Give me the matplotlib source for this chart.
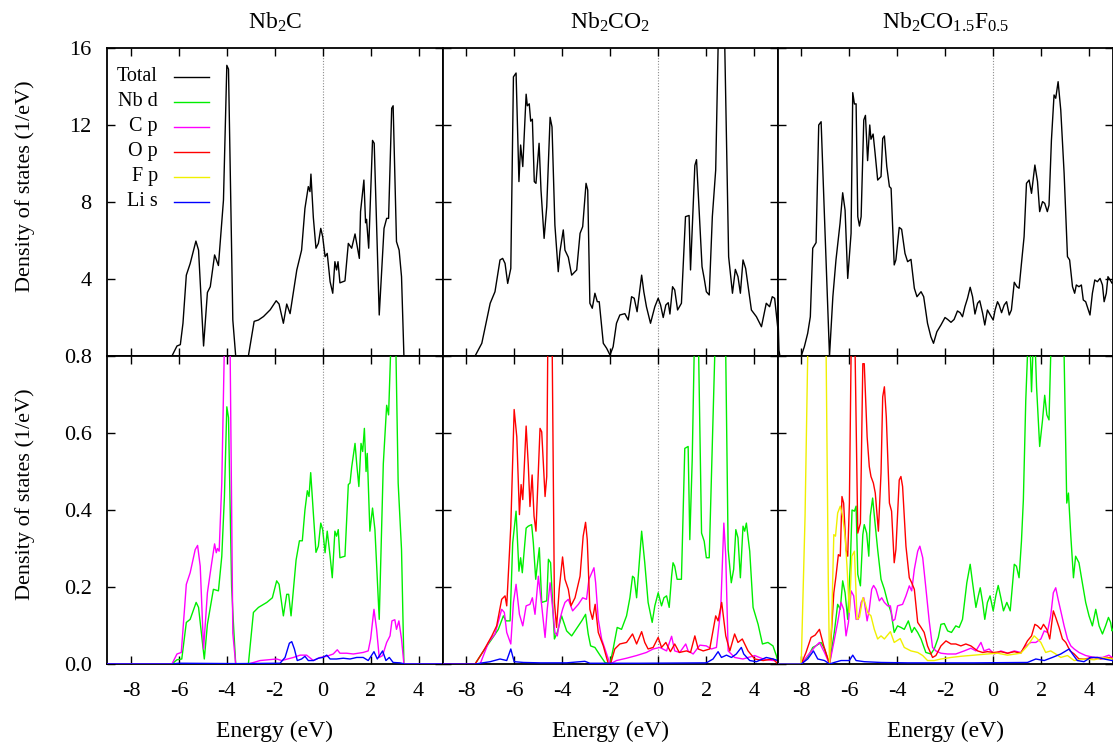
import numpy as np
import matplotlib
matplotlib.use('Agg')
import matplotlib.pyplot as plt

# ------------------ data (energy in eV, DOS in 1/eV) ------------------
titles = [r'Nb$_2$C', r'Nb$_2$CO$_2$', r'Nb$_2$CO$_{1.5}$F$_{0.5}$']
species = ['Total', 'Nb d', 'C p', 'O p', 'F p', 'Li s']
x_ticks = [-8, -6, -4, -2, 0, 2, 4]
top_ticks = [4, 8, 12, 16]
bottom_ticks = [0.0, 0.2, 0.4, 0.6, 0.8]

# Nb2C
nb2c_total = [(-9.0, 0), (-6.29, 0), (-6.08, 0.52), (-5.94, 0.59), (-5.83, 1.7), (-5.69, 4.2), (-5.53, 4.8),
              (-5.29, 5.97), (-5.18, 5.5), (-4.97, 0.52), (-4.81, 3.3), (-4.69, 3.6), (-4.51, 5.25), (-4.35, 4.7),
              (-4.14, 8.1), (-4.0, 15.1), (-3.93, 14.9), (-3.75, 1.87), (-3.63, 0), (-3.10, 0), (-2.86, 1.8),
              (-2.68, 1.87), (-2.47, 2.05), (-2.19, 2.4), (-1.94, 2.87), (-1.82, 2.7), (-1.64, 1.7), (-1.50, 2.7),
              (-1.36, 2.2), (-1.08, 4.47), (-0.88, 5.5), (-0.74, 7.67), (-0.60, 8.8), (-0.53, 8.54), (-0.49, 9.45),
              (-0.39, 7.2), (-0.28, 5.6), (-0.18, 5.85), (-0.08, 6.63), (0.0, 6.2), (0.10, 5.16), (0.19, 5.33),
              (0.31, 3.86), (0.42, 3.26), (0.51, 4.9), (0.58, 4.47), (0.64, 4.9), (0.72, 3.8), (0.93, 3.9),
              (1.07, 5.85), (1.21, 5.6), (1.35, 6.34), (1.53, 5.07), (1.58, 7.5), (1.72, 9.14), (1.79, 6.92),
              (1.83, 7.1), (1.92, 5.6), (2.08, 11.2), (2.15, 11.05), (2.36, 2.13), (2.56, 6.63), (2.67, 7.15),
              (2.75, 7.15), (2.88, 12.87), (2.94, 13.0), (3.08, 5.94), (3.19, 5.5), (3.29, 4.12), (3.39, 0),
              (5.0, 0)]
nb2c_nbd = [(-9.0, 0), (-6.29, 0), (-6.08, 0.011), (-5.88, 0.013), (-5.69, 0.108), (-5.53, 0.116), (-5.28, 0.16),
            (-5.18, 0.147), (-4.94, 0.013), (-4.81, 0.103), (-4.56, 0.194), (-4.35, 0.19), (-4.21, 0.28),
            (-4.10, 0.435), (-4.0, 0.668), (-3.93, 0.64), (-3.80, 0.2), (-3.72, 0.1), (-3.63, 0), (-3.10, 0),
            (-2.89, 0.134), (-2.68, 0.147), (-2.33, 0.16), (-2.10, 0.172), (-1.92, 0.216), (-1.82, 0.207),
            (-1.64, 0.125), (-1.50, 0.181), (-1.42, 0.181), (-1.32, 0.125), (-1.11, 0.27), (-0.97, 0.32),
            (-0.85, 0.32), (-0.74, 0.40), (-0.64, 0.45), (-0.57, 0.435), (-0.50, 0.497), (-0.39, 0.392),
            (-0.28, 0.29), (-0.18, 0.306), (-0.08, 0.366), (0.0, 0.349), (0.10, 0.289), (0.19, 0.345),
            (0.31, 0.28), (0.40, 0.224), (0.51, 0.345), (0.58, 0.332), (0.65, 0.349), (0.72, 0.276),
            (0.93, 0.28), (1.07, 0.466), (1.14, 0.47), (1.21, 0.511), (1.35, 0.573), (1.42, 0.52), (1.51, 0.461),
            (1.60, 0.573), (1.67, 0.552), (1.74, 0.612), (1.81, 0.5), (1.86, 0.547), (1.97, 0.345), (2.08, 0.405),
            (2.18, 0.349), (2.36, 0.116), (2.53, 0.52), (2.67, 0.672), (2.75, 0.647), (2.83, 0.8), (2.94, 1.1),
            (3.06, 0.8), (3.15, 0.47), (3.29, 0.297), (3.39, 0), (5.0, 0)]
nb2c_cp = [(-9.0, 0), (-6.29, 0), (-6.08, 0.026), (-5.90, 0.03), (-5.69, 0.207), (-5.53, 0.237), (-5.32, 0.297),
           (-5.22, 0.308), (-5.11, 0.254), (-4.97, 0.039), (-4.81, 0.185), (-4.63, 0.263), (-4.51, 0.312),
           (-4.44, 0.289), (-4.39, 0.3), (-4.32, 0.293), (-4.21, 0.47), (-4.11, 0.8), (-4.0, 1.2), (-3.86, 0.8),
           (-3.75, 0.08), (-3.63, 0), (-3.10, 0), (-2.61, 0.009), (-1.92, 0.013), (-1.71, 0.009), (-1.22, 0.017),
           (-0.94, 0.023), (-0.67, 0.023), (-0.39, 0.009), (-0.11, 0.017), (0.17, 0.02), (0.44, 0.026),
           (0.61, 0.037), (0.72, 0.028), (1.0, 0.028), (1.28, 0.026), (1.69, 0.03), (1.90, 0.034), (2.0, 0.065),
           (2.14, 0.142), (2.25, 0.09), (2.36, 0.017), (2.5, 0.022), (2.67, 0.056), (2.81, 0.073), (2.89, 0.112),
           (3.01, 0.115), (3.08, 0.09), (3.18, 0.112), (3.29, 0.065), (3.39, 0), (5.0, 0)]
nb2c_lis = [(-9.0, 0), (-6.3, 0), (-6.0, 0.002), (-3.6, 0.001), (-1.78, 0.002), (-1.57, 0.017), (-1.39, 0.054),
            (-1.29, 0.058), (-1.18, 0.039), (-1.06, 0.009), (-0.88, 0.013), (-0.74, 0.02), (-0.60, 0.009),
            (-0.39, 0.009), (-0.18, 0.015), (0.0, 0.017), (0.17, 0.023), (0.31, 0.013), (0.58, 0.013),
            (0.86, 0.015), (1.14, 0.013), (1.42, 0.017), (1.69, 0.017), (1.90, 0.009), (2.14, 0.032),
            (2.28, 0.013), (2.5, 0.034), (2.64, 0.009), (2.78, 0.017), (2.94, 0.004), (3.22, 0.003), (3.43, 0),
            (5.0, 0)]

# Nb2CO2
nb2co2_total = [(-9.0, 0), (-7.64, 0), (-7.36, 0.66), (-7.01, 2.74), (-6.81, 3.34), (-6.60, 4.99), (-6.49, 5.07),
                (-6.39, 4.81), (-6.28, 3.77), (-6.15, 4.55), (-6.04, 14.5), (-5.93, 14.7), (-5.81, 9.06),
                (-5.74, 10.96), (-5.65, 9.84), (-5.51, 13.6), (-5.46, 13.0), (-5.38, 13.1), (-5.32, 12.2),
                (-5.25, 12.3), (-5.17, 9.06), (-5.10, 8.97), (-4.97, 11.05), (-4.89, 8.62), (-4.76, 6.11),
                (-4.65, 7.76), (-4.51, 12.4), (-4.43, 11.9), (-4.31, 6.8), (-4.17, 4.38), (-4.10, 5.42),
                (-3.96, 6.55), (-3.89, 5.5), (-3.75, 5.13), (-3.61, 4.2), (-3.40, 4.47), (-3.26, 6.37),
                (-3.15, 6.72), (-3.01, 8.97), (-2.94, 8.62), (-2.85, 2.74), (-2.75, 2.48), (-2.64, 3.26),
                (-2.54, 2.82), (-2.46, 2.82), (-2.29, 0.66), (-2.15, 0.4), (-2.01, 0.05), (-1.88, 0.48),
                (-1.74, 1.7), (-1.60, 2.13), (-1.39, 2.2), (-1.25, 1.87), (-1.11, 3.08), (-1.0, 3.0), (-0.88, 2.3),
                (-0.69, 4.2), (-0.60, 3.34), (-0.49, 2.56), (-0.32, 1.7), (-0.14, 2.56), (0.0, 3.0), (0.10, 2.65),
                (0.21, 2.0), (0.32, 2.65), (0.42, 2.77), (0.49, 2.18), (0.60, 3.6), (0.69, 3.43), (0.81, 2.39),
                (0.97, 2.74), (1.14, 7.24), (1.29, 7.3), (1.35, 4.47), (1.53, 9.9), (1.60, 10.2), (1.83, 4.64),
                (1.92, 4.03), (2.01, 3.34), (2.13, 3.17), (2.26, 7.24), (2.40, 9.66), (2.5, 16.0), (2.6, 17.5),
                (2.78, 16.0), (2.94, 5.16), (3.10, 3.26), (3.22, 4.5), (3.33, 4.12), (3.43, 3.26), (3.54, 4.99),
                (3.65, 4.55), (3.89, 2.39), (4.10, 2.04), (4.31, 1.52), (4.51, 2.74), (4.65, 2.56), (4.76, 3.08),
                (4.86, 3.0), (5.0, 1.35)]
nb2co2_nbd = [(-9.0, 0), (-7.64, 0), (-7.29, 0.034), (-6.94, 0.065), (-6.67, 0.09), (-6.46, 0.125),
              (-6.35, 0.112), (-6.18, 0.112), (-6.07, 0.315), (-5.93, 0.397), (-5.81, 0.241), (-5.74, 0.276),
              (-5.67, 0.237), (-5.51, 0.353), (-5.42, 0.358), (-5.28, 0.362), (-5.21, 0.315), (-5.11, 0.22),
              (-4.96, 0.302), (-4.86, 0.16), (-4.65, 0.164), (-4.58, 0.272), (-4.49, 0.263), (-4.33, 0.065),
              (-4.21, 0.082), (-4.03, 0.125), (-3.82, 0.086), (-3.61, 0.073), (-3.33, 0.099), (-3.19, 0.112),
              (-3.03, 0.129), (-2.92, 0.078), (-2.82, 0.047), (-2.64, 0.043), (-2.43, 0.023), (-2.22, 0.004),
              (-2.01, 0), (-1.88, 0.039), (-1.71, 0.095), (-1.53, 0.09), (-1.32, 0.125), (-1.18, 0.172),
              (-1.07, 0.228), (-1.0, 0.224), (-0.90, 0.172), (-0.69, 0.345), (-0.56, 0.263), (-0.42, 0.16),
              (-0.25, 0.108), (-0.14, 0.151), (0.0, 0.185), (0.14, 0.151), (0.24, 0.172), (0.35, 0.177),
              (0.46, 0.147), (0.56, 0.228), (0.62, 0.263), (0.69, 0.254), (0.79, 0.22), (0.97, 0.22),
              (1.11, 0.56), (1.25, 0.565), (1.32, 0.323), (1.42, 0.53), (1.50, 0.8), (1.60, 0.95), (1.69, 0.8),
              (1.81, 0.34), (1.92, 0.319), (2.01, 0.276), (2.13, 0.276), (2.26, 0.573), (2.36, 0.8), (2.57, 1.3),
              (2.82, 0.8), (2.92, 0.297), (3.05, 0.211), (3.15, 0.246), (3.24, 0.349), (3.33, 0.328),
              (3.43, 0.224), (3.54, 0.358), (3.61, 0.345), (3.68, 0.366), (3.82, 0.293), (3.96, 0.147),
              (4.17, 0.103), (4.35, 0.052), (4.58, 0.056), (4.79, 0.047), (4.93, 0.022), (5.0, 0.004)]
nb2co2_cp = [(-9.0, 0), (-7.43, 0), (-7.08, 0.056), (-6.81, 0.078), (-6.53, 0.142), (-6.42, 0.134),
             (-6.32, 0.082), (-6.15, 0.052), (-6.04, 0.16), (-5.93, 0.207), (-5.79, 0.129), (-5.65, 0.099),
             (-5.51, 0.151), (-5.35, 0.155), (-5.25, 0.172), (-5.14, 0.129), (-5.0, 0.228), (-4.86, 0.151),
             (-4.72, 0.069), (-4.63, 0.142), (-4.51, 0.211), (-4.40, 0.142), (-4.31, 0.082), (-4.21, 0.073),
             (-4.10, 0.116), (-3.99, 0.142), (-3.89, 0.16), (-3.75, 0.168), (-3.57, 0.138), (-3.33, 0.155),
             (-3.15, 0.172), (-2.99, 0.168), (-2.89, 0.22), (-2.68, 0.25), (-2.61, 0.211), (-2.50, 0.116),
             (-2.36, 0.065), (-2.22, 0.039), (-2.01, 0), (-1.74, 0.009), (-1.32, 0.015), (-0.90, 0.022),
             (-0.49, 0.03), (-0.21, 0.039), (0.07, 0.043), (0.35, 0.034), (0.56, 0.072), (0.69, 0.034),
             (0.90, 0.03), (1.15, 0.052), (1.25, 0.034), (1.46, 0.026), (1.74, 0.049), (2.01, 0.047),
             (2.22, 0.039), (2.43, 0.043), (2.61, 0.142), (2.74, 0.366), (2.82, 0.28), (2.92, 0.034),
             (3.19, 0.017), (3.54, 0.013), (4.03, 0.022), (4.38, 0.013), (4.79, 0.009), (5.0, 0.009)]
nb2co2_op = [(-9.0, 0), (-7.64, 0), (-7.29, 0.034), (-6.94, 0.073), (-6.74, 0.099), (-6.53, 0.168),
             (-6.39, 0.177), (-6.32, 0.151), (-6.15, 0.358), (-6.01, 0.661), (-5.90, 0.59), (-5.79, 0.388),
             (-5.72, 0.466), (-5.65, 0.427), (-5.51, 0.618), (-5.42, 0.517), (-5.35, 0.409), (-5.26, 0.491),
             (-5.18, 0.384), (-5.10, 0.345), (-4.93, 0.612), (-4.86, 0.603), (-4.72, 0.435), (-4.65, 0.487),
             (-4.61, 0.8), (-4.51, 0.95), (-4.42, 0.8), (-4.33, 0.16), (-4.24, 0.095), (-4.13, 0.194),
             (-3.99, 0.278), (-3.89, 0.22), (-3.75, 0.194), (-3.64, 0.151), (-3.47, 0.172), (-3.26, 0.228),
             (-3.13, 0.332), (-3.03, 0.368), (-2.96, 0.323), (-2.85, 0.142), (-2.74, 0.116), (-2.63, 0.155),
             (-2.50, 0.082), (-2.29, 0.047), (-2.08, 0), (-1.99, 0), (-1.81, 0.039), (-1.60, 0.052),
             (-1.32, 0.056), (-1.07, 0.078), (-0.90, 0.052), (-0.69, 0.084), (-0.56, 0.056), (-0.42, 0.039),
             (-0.21, 0.043), (0.0, 0.069), (0.14, 0.043), (0.32, 0.056), (0.51, 0.032), (0.69, 0.052),
             (0.88, 0.03), (1.18, 0.034), (1.35, 0.03), (1.53, 0.073), (1.67, 0.039), (1.88, 0.034),
             (2.15, 0.039), (2.40, 0.125), (2.5, 0.112), (2.65, 0.16), (2.82, 0.073), (2.99, 0.034),
             (3.19, 0.078), (3.33, 0.056), (3.51, 0.065), (3.75, 0.034), (4.03, 0.013), (4.38, 0.009),
             (4.79, 0.013), (5.0, 0)]
nb2co2_lis = [(-9.0, 0), (-7.64, 0), (-7.01, 0.006), (-6.60, 0.013), (-6.32, 0.009), (-6.15, 0.039),
              (-6.01, 0.006), (-5.62, 0.004), (-4.93, 0.003), (-3.82, 0.003), (-3.06, 0.007), (-2.85, 0.002),
              (-0.76, 0.002), (2.01, 0.003), (2.29, 0.013), (2.5, 0.032), (2.64, 0.017), (2.85, 0.023),
              (3.06, 0.017), (3.26, 0.026), (3.47, 0.043), (3.57, 0.026), (3.82, 0.009), (4.10, 0.006),
              (4.51, 0.017), (4.79, 0.013), (5.0, 0.009)]

# Nb2CO1.5F0.5
nb2cof_total = [(-9.0, 3.08), (-8.94, 0.3), (-8.90, 0), (-8.01, 0), (-7.88, 0.48), (-7.74, 1.18), (-7.63, 2.04),
                (-7.53, 5.6), (-7.39, 5.89), (-7.28, 12.0), (-7.18, 12.17), (-7.04, 7.24), (-6.83, 0),
                (-6.69, 3.08), (-6.56, 4.99), (-6.39, 6.89), (-6.28, 8.48), (-6.18, 7.58), (-6.07, 4.03),
                (-5.93, 6.37), (-5.86, 13.68), (-5.79, 13.09), (-5.72, 13.1), (-5.65, 7.24), (-5.58, 6.75),
                (-5.51, 7.24), (-5.40, 12.26), (-5.33, 12.5), (-5.24, 10.15), (-5.15, 12.0), (-5.10, 11.26),
                (-5.01, 11.53), (-4.93, 10.56), (-4.82, 9.14), (-4.68, 9.32), (-4.61, 11.3), (-4.54, 11.43),
                (-4.44, 9.84), (-4.33, 8.8), (-4.26, 8.71), (-4.13, 4.73), (-4.06, 4.99), (-3.92, 6.68),
                (-3.82, 6.58), (-3.68, 5.33), (-3.57, 4.9), (-3.43, 5.02), (-3.29, 3.52), (-3.18, 3.08),
                (-3.01, 3.34), (-2.90, 3.08), (-2.74, 1.7), (-2.60, 1.0), (-2.49, 0.66), (-2.35, 1.26),
                (-2.18, 1.61), (-2.01, 2.0), (-1.90, 1.9), (-1.76, 1.75), (-1.63, 1.9), (-1.49, 2.34),
                (-1.38, 2.25), (-1.28, 2.04), (-1.18, 2.56), (-1.07, 3.0), (-0.96, 3.57), (-0.86, 3.08),
                (-0.76, 2.18), (-0.65, 2.74), (-0.56, 2.87), (-0.44, 2.22), (-0.35, 1.61), (-0.24, 2.39),
                (-0.10, 2.08), (0.0, 1.87), (0.08, 2.39), (0.18, 2.82), (0.25, 2.65), (0.35, 2.25), (0.46, 2.65),
                (0.56, 2.82), (0.67, 2.13), (0.76, 2.39), (0.88, 3.83), (0.99, 3.6), (1.08, 3.52), (1.18, 4.81),
                (1.29, 6.2), (1.39, 8.97), (1.50, 9.14), (1.60, 8.45), (1.74, 9.92), (1.85, 9.06), (1.94, 7.5),
                (2.06, 8.02), (2.15, 7.93), (2.26, 7.5), (2.33, 7.84), (2.43, 11.2), (2.54, 13.56), (2.61, 13.39),
                (2.71, 14.25), (2.82, 12.78), (2.96, 9.5), (3.10, 5.16), (3.19, 4.99), (3.31, 3.6), (3.40, 3.26),
                (3.47, 3.69), (3.58, 3.6), (3.68, 3.69), (3.76, 2.91), (3.86, 2.82), (4.04, 2.13), (4.14, 3.26),
                (4.24, 3.95), (4.35, 3.86), (4.46, 4.03), (4.56, 3.69), (4.63, 2.82), (4.72, 3.26), (4.79, 4.12),
                (4.88, 3.95), (4.96, 3.78), (5.0, 3.8)]
nb2cof_nbd = [(-9.0, 0), (-8.01, 0), (-7.74, 0.017), (-7.53, 0.043), (-7.35, 0.049), (-7.18, 0.056),
              (-7.04, 0.039), (-6.83, 0), (-6.63, 0.082), (-6.49, 0.155), (-6.38, 0.142), (-6.28, 0.216),
              (-6.18, 0.185), (-6.07, 0.116), (-5.96, 0.263), (-5.89, 0.40), (-5.79, 0.397), (-5.72, 0.41),
              (-5.65, 0.233), (-5.54, 0.203), (-5.44, 0.336), (-5.38, 0.362), (-5.28, 0.34), (-5.19, 0.28),
              (-5.13, 0.384), (-5.03, 0.431), (-4.93, 0.366), (-4.82, 0.297), (-4.68, 0.22), (-4.54, 0.194),
              (-4.40, 0.16), (-4.26, 0.134), (-4.13, 0.082), (-3.99, 0.099), (-3.85, 0.095), (-3.71, 0.09),
              (-3.54, 0.112), (-3.40, 0.082), (-3.29, 0.095), (-3.15, 0.082), (-3.01, 0.065), (-2.81, 0.03),
              (-2.60, 0.026), (-2.46, 0.039), (-2.29, 0.069), (-2.18, 0.103), (-2.04, 0.105), (-1.90, 0.086),
              (-1.74, 0.082), (-1.56, 0.099), (-1.42, 0.095), (-1.28, 0.116), (-1.10, 0.211), (-0.96, 0.259),
              (-0.86, 0.211), (-0.72, 0.147), (-0.62, 0.177), (-0.54, 0.198), (-0.44, 0.16), (-0.35, 0.116),
              (-0.24, 0.16), (-0.13, 0.177), (0.0, 0.138), (0.11, 0.177), (0.21, 0.204), (0.32, 0.172),
              (0.43, 0.138), (0.57, 0.16), (0.71, 0.138), (0.88, 0.259), (0.97, 0.254), (1.08, 0.224),
              (1.18, 0.319), (1.26, 0.427), (1.36, 0.685), (1.46, 0.85), (1.53, 0.85), (1.60, 0.707),
              (1.68, 0.85), (1.74, 0.85), (1.81, 0.72), (1.94, 0.565), (2.06, 0.634), (2.15, 0.698),
              (2.24, 0.647), (2.33, 0.634), (2.40, 0.8), (2.68, 1.3), (2.96, 0.8), (3.07, 0.418), (3.14, 0.444),
              (3.24, 0.332), (3.35, 0.224), (3.44, 0.28), (3.58, 0.263), (3.72, 0.211), (3.86, 0.16),
              (4.0, 0.125), (4.14, 0.099), (4.28, 0.142), (4.42, 0.099), (4.56, 0.078), (4.69, 0.099),
              (4.81, 0.121), (4.90, 0.108), (4.96, 0.086), (5.0, 0.09)]
nb2cof_cp = [(-9.0, 0), (-8.01, 0), (-7.74, 0.022), (-7.46, 0.043), (-7.25, 0.056), (-7.04, 0.03), (-6.83, 0),
             (-6.65, 0.056), (-6.49, 0.108), (-6.35, 0.16), (-6.24, 0.142), (-6.14, 0.073), (-6.04, 0.108),
             (-5.93, 0.19), (-5.82, 0.177), (-5.72, 0.116), (-5.63, 0.116), (-5.51, 0.16), (-5.40, 0.172),
             (-5.26, 0.112), (-5.17, 0.142), (-5.07, 0.194), (-4.99, 0.204), (-4.89, 0.194), (-4.75, 0.164),
             (-4.65, 0.172), (-4.54, 0.16), (-4.40, 0.151), (-4.29, 0.151), (-4.19, 0.112), (-4.10, 0.116),
             (-3.99, 0.151), (-3.78, 0.155), (-3.64, 0.177), (-3.50, 0.203), (-3.40, 0.19), (-3.29, 0.246),
             (-3.15, 0.293), (-3.06, 0.306), (-2.94, 0.276), (-2.81, 0.198), (-2.67, 0.112), (-2.53, 0.043),
             (-2.39, 0.034), (-2.18, 0.028), (-1.90, 0.026), (-1.56, 0.026), (-1.21, 0.034), (-0.93, 0.041),
             (-0.72, 0.034), (-0.51, 0.056), (-0.38, 0.034), (-0.17, 0.039), (0.04, 0.026), (0.32, 0.034),
             (0.60, 0.028), (0.88, 0.034), (1.15, 0.03), (1.36, 0.047), (1.57, 0.056), (1.78, 0.056),
             (1.99, 0.065), (2.13, 0.086), (2.26, 0.082), (2.40, 0.125), (2.51, 0.185), (2.61, 0.198),
             (2.71, 0.168), (2.82, 0.138), (2.96, 0.099), (3.10, 0.065), (3.24, 0.047), (3.38, 0.039),
             (3.58, 0.03), (3.86, 0.022), (4.21, 0.017), (4.56, 0.017), (4.83, 0.023), (4.96, 0.017),
             (5.0, 0.017)]
nb2cof_op = [(-9.0, 0), (-8.01, 0), (-7.81, 0.03), (-7.60, 0.069), (-7.43, 0.075), (-7.25, 0.09), (-7.07, 0.047),
             (-6.83, 0), (-6.65, 0.185), (-6.56, 0.228), (-6.46, 0.284), (-6.38, 0.28), (-6.31, 0.435),
             (-6.24, 0.418), (-6.14, 0.297), (-6.07, 0.28), (-6.0, 0.418), (-5.93, 0.8), (-5.85, 0.9),
             (-5.76, 0.8), (-5.65, 0.34), (-5.54, 0.366), (-5.44, 0.78), (-5.38, 0.78), (-5.26, 0.59),
             (-5.17, 0.513), (-5.10, 0.487), (-5.0, 0.47), (-4.92, 0.444), (-4.79, 0.345), (-4.68, 0.496),
             (-4.61, 0.694), (-4.54, 0.72), (-4.46, 0.642), (-4.33, 0.418), (-4.24, 0.397), (-4.13, 0.263),
             (-4.06, 0.297), (-3.92, 0.478), (-3.85, 0.487), (-3.78, 0.461), (-3.64, 0.306), (-3.50, 0.224),
             (-3.40, 0.211), (-3.29, 0.194), (-3.15, 0.108), (-3.01, 0.095), (-2.88, 0.082), (-2.74, 0.047),
             (-2.53, 0.017), (-2.39, 0.022), (-2.18, 0.047), (-1.97, 0.06), (-1.76, 0.052), (-1.56, 0.052),
             (-1.35, 0.047), (-1.14, 0.052), (-0.93, 0.047), (-0.65, 0.034), (-0.44, 0.03), (-0.24, 0.032),
             (0.04, 0.03), (0.32, 0.032), (0.60, 0.028), (0.88, 0.032), (1.15, 0.028), (1.43, 0.06),
             (1.60, 0.073), (1.74, 0.103), (1.85, 0.099), (1.99, 0.09), (2.10, 0.103), (2.24, 0.09),
             (2.36, 0.065), (2.51, 0.138), (2.61, 0.121), (2.75, 0.095), (2.89, 0.065), (3.03, 0.056),
             (3.21, 0.034), (3.38, 0.026), (3.58, 0.013), (3.79, 0.013), (4.21, 0.017), (4.49, 0.013),
             (4.76, 0.017), (4.96, 0.015), (5.0, 0.015)]
nb2cof_fp = [(-9.0, 0), (-8.01, 0), (-7.85, 0.384), (-7.74, 0.8), (-7.6, 2.5), (-7.4, 3.5), (-7.2, 4.0),
             (-7.05, 2.0), (-6.97, 0.8), (-6.88, 0.211), (-6.83, 0), (-6.74, 0.108), (-6.65, 0.336),
             (-6.58, 0.332), (-6.49, 0.392), (-6.38, 0.41), (-6.28, 0.384), (-6.18, 0.332), (-6.10, 0.254),
             (-6.0, 0.134), (-5.90, 0.28), (-5.79, 0.293), (-5.68, 0.116), (-5.58, 0.121), (-5.44, 0.172),
             (-5.35, 0.16), (-5.24, 0.134), (-5.10, 0.125), (-4.96, 0.09), (-4.82, 0.065), (-4.68, 0.073),
             (-4.54, 0.065), (-4.29, 0.084), (-4.13, 0.056), (-3.88, 0.066), (-3.71, 0.043), (-3.43, 0.034),
             (-3.15, 0.03), (-2.94, 0.022), (-2.74, 0.009), (-2.46, 0.009), (-2.18, 0.013), (-1.76, 0.017),
             (-1.35, 0.02), (-0.79, 0.023), (-0.24, 0.026), (0.18, 0.028), (0.60, 0.023), (1.15, 0.028),
             (1.43, 0.047), (1.71, 0.073), (1.85, 0.065), (1.99, 0.056), (2.19, 0.03), (2.40, 0.034),
             (2.61, 0.026), (2.82, 0.017), (3.10, 0.022), (3.38, 0.009), (3.79, 0.013), (4.21, 0.011),
             (4.63, 0.017), (4.96, 0.013), (5.0, 0.013)]
nb2cof_lis = [(-9.0, 0), (-8.01, 0), (-7.74, 0.013), (-7.50, 0.034), (-7.32, 0.013), (-7.04, 0.009),
              (-6.83, 0), (-6.63, 0.004), (-6.35, 0.009), (-6.0, 0.009), (-5.86, 0.023), (-5.72, 0.009),
              (-5.38, 0.006), (-4.68, 0.004), (-3.57, 0.003), (-0.79, 0.003), (1.43, 0.004), (1.78, 0.013),
              (2.13, 0.009), (2.47, 0.017), (2.82, 0.026), (3.17, 0.039), (3.31, 0.026), (3.51, 0.009),
              (3.79, 0.006), (4.07, 0.017), (4.35, 0.017), (4.63, 0.013), (4.96, 0.009), (5.0, 0.009)]

colors = {'Total': 'black', 'Nb d': '#00ee00', 'C p': '#ff00ff', 'O p': '#ff0000',
          'F p': '#f0f000', 'Li s': '#0000ff'}

panels = [
    (nb2c_total, [('Nb d', nb2c_nbd), ('C p', nb2c_cp), ('Li s', nb2c_lis)]),
    (nb2co2_total, [('Nb d', nb2co2_nbd), ('C p', nb2co2_cp), ('O p', nb2co2_op), ('Li s', nb2co2_lis)]),
    (nb2cof_total, [('Nb d', nb2cof_nbd), ('C p', nb2cof_cp), ('O p', nb2cof_op), ('F p', nb2cof_fp),
                    ('Li s', nb2cof_lis)]),
]

# ------------------ figure ------------------
plt.rcParams['font.family'] = 'Liberation Serif'
plt.rcParams['mathtext.fontset'] = 'custom'
plt.rcParams['mathtext.rm'] = 'Liberation Serif'
plt.rcParams['mathtext.it'] = 'Liberation Serif:italic'
plt.rcParams['axes.unicode_minus'] = False

W, H = 1113.0, 747.0
fig = plt.figure(figsize=(W / 100, H / 100), dpi=100)

lefts = [107, 442.5, 777.5]
pw = 335.5
ph = 308.0


def style_axes(ax):
    ax.set_xlim(-9, 5)
    ax.set_xticks(x_ticks)
    ax.tick_params(direction='in', top=True, right=True, length=6, width=1.0,
                   labelsize=16, pad=11)
    ax.tick_params(axis='x', pad=13)
    for sp in ax.spines.values():
        sp.set_linewidth(1.3)
    ax.axvline(0, color='#8c8c8c', lw=0.8, ls=(0, (1, 1.5)), zorder=1)


for col, (total, parts) in enumerate(panels):
    # top row: total DOS
    ax_t = fig.add_axes([lefts[col] / W, (H - 356) / H, pw / W, ph / H])
    style_axes(ax_t)
    e, d = np.array(total).T
    ax_t.plot(e, d, color=colors['Total'], lw=1.0, zorder=3)
    ax_t.set_ylim(0, 16)
    ax_t.set_yticks(top_ticks)
    ax_t.tick_params(labelbottom=False)
    ax_t.set_title(titles[col], fontsize=17, pad=14)

    # bottom row: projected DOS
    ax_b = fig.add_axes([lefts[col] / W, (H - 664) / H, pw / W, ph / H])
    style_axes(ax_b)
    for name, pdos in parts:
        e, d = np.array(pdos).T
        ax_b.plot(e, d, color=colors[name], lw=1.0, zorder=3)
    ax_b.set_ylim(0, 0.8)
    ax_b.set_yticks(bottom_ticks)
    ax_b.set_yticklabels(['%.1f' % v for v in bottom_ticks])
    ax_b.set_xlabel('Energy (eV)', fontsize=17, labelpad=14)

    if col == 0:
        for ax in (ax_t, ax_b):
            ax.set_ylabel('Density of states (1/eV)', fontsize=16)
            ax.yaxis.set_label_coords(-0.215, 0.55)

        # legend, gnuplot style: right-aligned label, sample line after it
        for i, name in enumerate(species):
            yy = 0.907 - i * 0.0812
            ax_t.text(0.152, yy, name, transform=ax_t.transAxes, ha='right', va='center', fontsize=14.5)
            ax_t.plot([0.199, 0.304], [yy, yy], transform=ax_t.transAxes, color=colors[name], lw=1.0)
    else:
        ax_t.tick_params(labelleft=False)
        ax_b.tick_params(labelleft=False)

fig.savefig('out.png', dpi=100)
